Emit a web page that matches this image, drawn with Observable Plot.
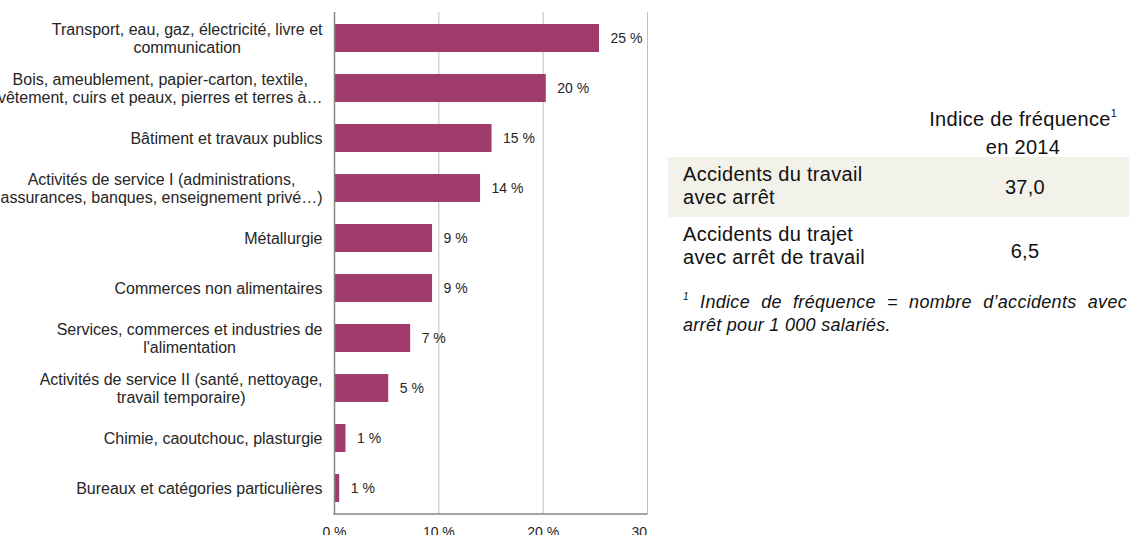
<!DOCTYPE html>
<html>
<head>
<meta charset="utf-8">
<script src="https://cdn.jsdelivr.net/npm/d3@7"></script>
<script src="https://cdn.jsdelivr.net/npm/@observablehq/plot@0.6"></script>
<style>
  html, body { margin: 0; padding: 0; background: #fff; }
  body { width: 1129px; height: 535px; overflow: hidden; font-family: "Liberation Sans", Arial, sans-serif; color: #111; }
  #wrap { position: relative; width: 1129px; height: 535px; overflow: hidden; }
  #chart { position: absolute; left: 0; top: 0; width: 648px; height: 545px; overflow: hidden; }
  .abs { position: absolute; }
  .tbl { font-size: 20px; letter-spacing: 0.3px; line-height: 23px; color: #111; }
  .head { left: 913px; top: 107px; width: 220px; text-align: center; line-height: 25px; }
  .head sup { font-size: 11px; vertical-align: 0; position: relative; top: -9px; letter-spacing: 0; }
  .rowbg { left: 668px; top: 157px; width: 461px; height: 60px; background: #f2f1ea; }
  .rowlabel { left: 683px; white-space: pre; }
  .rowval { left: 925px; width: 200px; text-align: center; }
  .note { left: 683px; width: 444px; font-size: 18px; letter-spacing: 0.3px; font-style: italic; line-height: 21px; color: #111; }
  .note .l1 { text-align: justify; text-align-last: justify; white-space: nowrap; }
  .note sup { font-size: 10px; position: relative; top: -8px; vertical-align: 0; }
</style>
</head>
<body>
<div id="wrap">
  <div id="chart"></div>
</div>
<script>
// ---- Data ----
const categories = [
  "Transport, eau, gaz, électricité, livre et\ncommunication",
  "Bois, ameublement, papier-carton, textile,\nvêtement, cuirs et peaux, pierres et terres à…",
  "Bâtiment et travaux publics",
  "Activités de service I (administrations,\nassurances, banques, enseignement privé…)",
  "Métallurgie",
  "Commerces non alimentaires",
  "Services, commerces et industries de\nl'alimentation",
  "Activités de service II (santé, nettoyage,\ntravail temporaire)",
  "Chimie, caoutchouc, plasturgie",
  "Bureaux et catégories particulières"
];
const values = [25.4, 20.3, 15.1, 14.0, 9.4, 9.4, 7.3, 5.2, 1.1, 0.5];
const valueLabels = ["25 %", "20 %", "15 %", "14 %", "9 %", "9 %", "7 %", "5 %", "1 %", "1 %"];
const xTicks = [0, 10, 20, 30];
const gridTicks = [10, 20, 30];

const tableHeader = ["Indice de fréquence", "en 2014"];
const tableRows = ["Accidents du travail\navec arrêt", "Accidents du trajet\navec arrêt de travail"];
const tableValues = ["37,0", "6,5"];
const noteLines = ["Indice de fréquence = nombre d’accidents avec", "arrêt pour 1 000 salariés."];

const data = categories.map((c, i) => ({cat: c, value: values[i], label: valueLabels[i]}));

// ---- Chart ----
const bottomLine = (index, scales, values, dim) => {
  const y = dim.height - dim.marginBottom;
  const l = d3.create("svg:line")
    .attr("x1", dim.marginLeft - 0.75).attr("x2", dim.width - dim.marginRight + 0.5)
    .attr("y1", y).attr("y2", y)
    .attr("stroke", "#868686").attr("stroke-width", 1.5);
  return l.node();
};

const plot = Plot.plot({
  width: 648,
  height: 545,
  marginLeft: 334,
  marginRight: 1,
  marginTop: 12,
  marginBottom: 31,
  style: {fontFamily: '"Liberation Sans", Arial, sans-serif', background: "white", color: "#262626", overflow: "hidden"},
  x: {domain: [0, 30], ticks: xTicks},
  y: {domain: categories, paddingInner: 0.44, paddingOuter: 0.22},
  marks: [
    Plot.gridX(gridTicks, {stroke: "#c0c0c0", strokeOpacity: 1, strokeWidth: 1}),
    Plot.barX(data, {x: "value", y: "cat", fill: "#a03b6b"}),
    Plot.text(data, {x: "value", y: "cat", text: "label", textAnchor: "start", dx: 11, fontSize: 14, fill: "#262626"}),
    Plot.ruleX([0], {stroke: "#868686", strokeWidth: 1.5}),
    bottomLine,
    Plot.axisX({ticks: xTicks, tickFormat: d => d + " %", tickSize: 0, tickPadding: 13, fontSize: 14, label: null}),
    Plot.axisY({tickSize: 0, tickPadding: 12, fontSize: 16, lineHeight: 1.12, label: null, textAnchor: "end"})
  ]
});
document.getElementById("chart").appendChild(plot);

// center multi-line category labels within their right-aligned block
plot.querySelectorAll('g[aria-label="y-axis tick label"] text').forEach(t => {
  const spans = Array.from(t.querySelectorAll("tspan"));
  if (spans.length < 2) return;
  const w = spans.map(s => s.getComputedTextLength());
  const W = Math.max(...w);
  spans.forEach((s, i) => s.setAttribute("x", -(W - w[i]) / 2));
});

// ---- Table on the right ----
const wrap = document.getElementById("wrap");
function add(cls, html, style) {
  const d = document.createElement("div");
  d.className = "abs " + cls;
  d.innerHTML = html;
  Object.assign(d.style, style || {});
  wrap.appendChild(d);
  return d;
}
add("tbl head", tableHeader[0] + "<sup>1</sup><br>" + tableHeader[1]);
add("rowbg", "");
const rowTops = [163, 223];
const valTops = [176, 240];
tableRows.forEach((r, i) => {
  add("tbl rowlabel", r, {top: rowTops[i] + "px"});
  add("tbl rowval", tableValues[i], {top: valTops[i] + "px"});
});
add("note", '<div class="l1"><sup>1</sup> ' + noteLines[0] + '</div><div>' + noteLines[1] + '</div>', {top: 292 + "px"});
</script>
</body>
</html>
